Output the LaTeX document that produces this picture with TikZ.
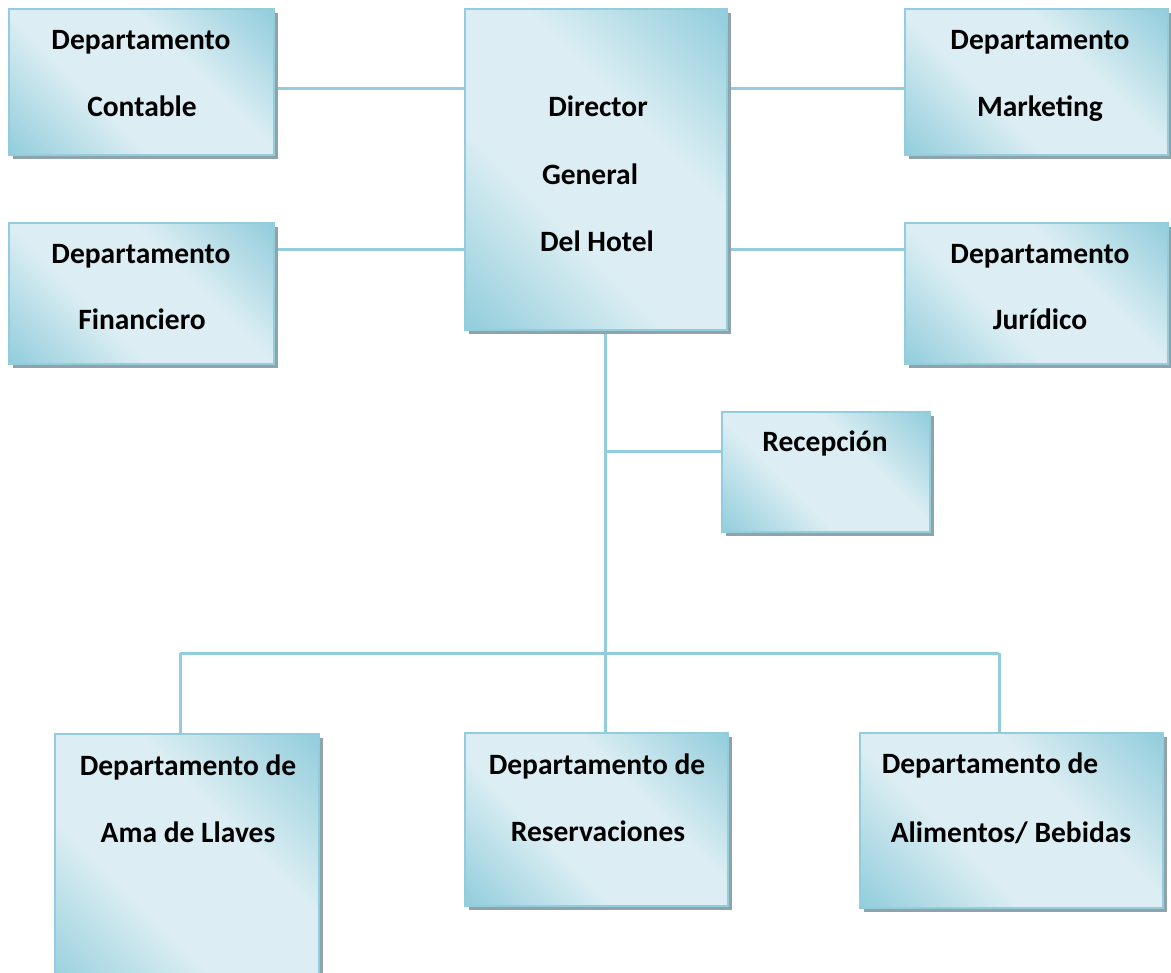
\documentclass[tikz,border=0pt]{standalone}
\usepackage{fontspec}
\setmainfont{Carlito}
\usetikzlibrary{shadows,backgrounds}
\definecolor{dk}{HTML}{90CCDB}
\definecolor{lt}{HTML}{DCEEF3}
\definecolor{bordc}{HTML}{93CDDD}
\definecolor{linec}{HTML}{93CDDD}
\definecolor{shadc}{HTML}{8FA3AB}
\pgfdeclareverticalshading{boxshade}{100bp}{color(0bp)=(dk); color(14bp)=(dk); color(39bp)=(lt); color(61bp)=(lt); color(86bp)=(dk); color(100bp)=(dk)}
\tikzset{
  box/.style={draw=bordc, line width=1.5pt, shading=boxshade, shading angle=-45,
    rectangle, inner sep=0pt,
    drop shadow={shadow xshift=4pt, shadow yshift=-4pt, fill=shadc, opacity=1}},
  txt/.style={anchor=base, inner sep=0pt, font=\fontsize{29.5}{35}\selectfont\bfseries},
  conn/.style={draw=linec, line width=3pt}
}
\newcommand{\boxat}[5]{% name, x1, y1, x2, y2
  \node[box, minimum width={(#4-#2)*1pt}, minimum height={(#5-#3)*1pt}] (#1) at ({(#2+#4)/2},{(#3+#5)/2}) {};}
\begin{document}
\begin{tikzpicture}[x=1pt,y=-1pt]
\useasboundingbox (0,0) rectangle (1171,973);
% boxes
\boxat{contable}{9}{9}{274}{155}
\boxat{financiero}{9}{223}{274}{364}
\boxat{director}{465}{9}{727}{330}
\boxat{marketing}{905}{9}{1168}{155}
\boxat{juridico}{905}{223}{1168}{364}
\boxat{recepcion}{722}{412}{930}{532}
\boxat{ama}{55}{734}{319}{1000}
\boxat{reserv}{465}{733}{728}{906}
\boxat{alim}{860}{733}{1163}{908}
% texts
\node[txt] (t1a) at (141,50) {Departamento};
\node[txt] (t1b) at (142,117) {Contable};
\node[txt] (t2a) at (141,264) {Departamento};
\node[txt] (t2b) at (142,330) {Financiero};
\node[txt] (t3a) at (598,117) {Director};
\node[txt] (t3b) at (590,185) {General};
\node[txt] (t3c) at (597,252) {Del Hotel};
\node[txt] (t4a) at (1040,50) {Departamento};
\node[txt] (t4b) at (1040,117) {Marketing};
\node[txt] (t5a) at (1040,264) {Departamento};
\node[txt] (t5b) at (1040,330) {Jurídico};
\node[txt] (t6a) at (825,452) {Recepción};
\node[txt] (t7a) at (188,775) {Departamento de};
\node[txt] (t7b) at (188,842) {Ama de Llaves};
\node[txt] (t8a) at (597,774) {Departamento de};
\node[txt] (t8b) at (598,841) {Reservaciones};
\node[txt] (t9a) at (990,773) {Departamento de};
\node[txt] (t9b) at (1011,842) {Alimentos/ Bebidas};
% connectors
\begin{pgfonlayer}{background}
\coordinate (jr) at (605,452);
\coordinate (bl) at (180,653);
\coordinate (br) at (999,653);
\draw[conn] ([yshift=-7pt]contable.east) -- ([yshift=-7pt]contable.east -| director.west);
\draw[conn] ([yshift=44pt]financiero.east) -- ([yshift=44pt]financiero.east -| director.west);
\draw[conn] ([yshift=-7pt]marketing.west) -- ([yshift=-7pt]marketing.west -| director.east);
\draw[conn] ([yshift=44pt]juridico.west) -- ([yshift=44pt]juridico.west -| director.east);
\draw[conn] (director.south -| jr) -- (reserv.north -| jr);
\draw[conn] (jr) -- (jr -| recepcion.west);
\draw[conn] (bl) -- (br);
\draw[conn] (bl) -- (bl |- ama.north);
\draw[conn] (br) -- (br |- alim.north);
\end{pgfonlayer}
\end{tikzpicture}
\end{document}
